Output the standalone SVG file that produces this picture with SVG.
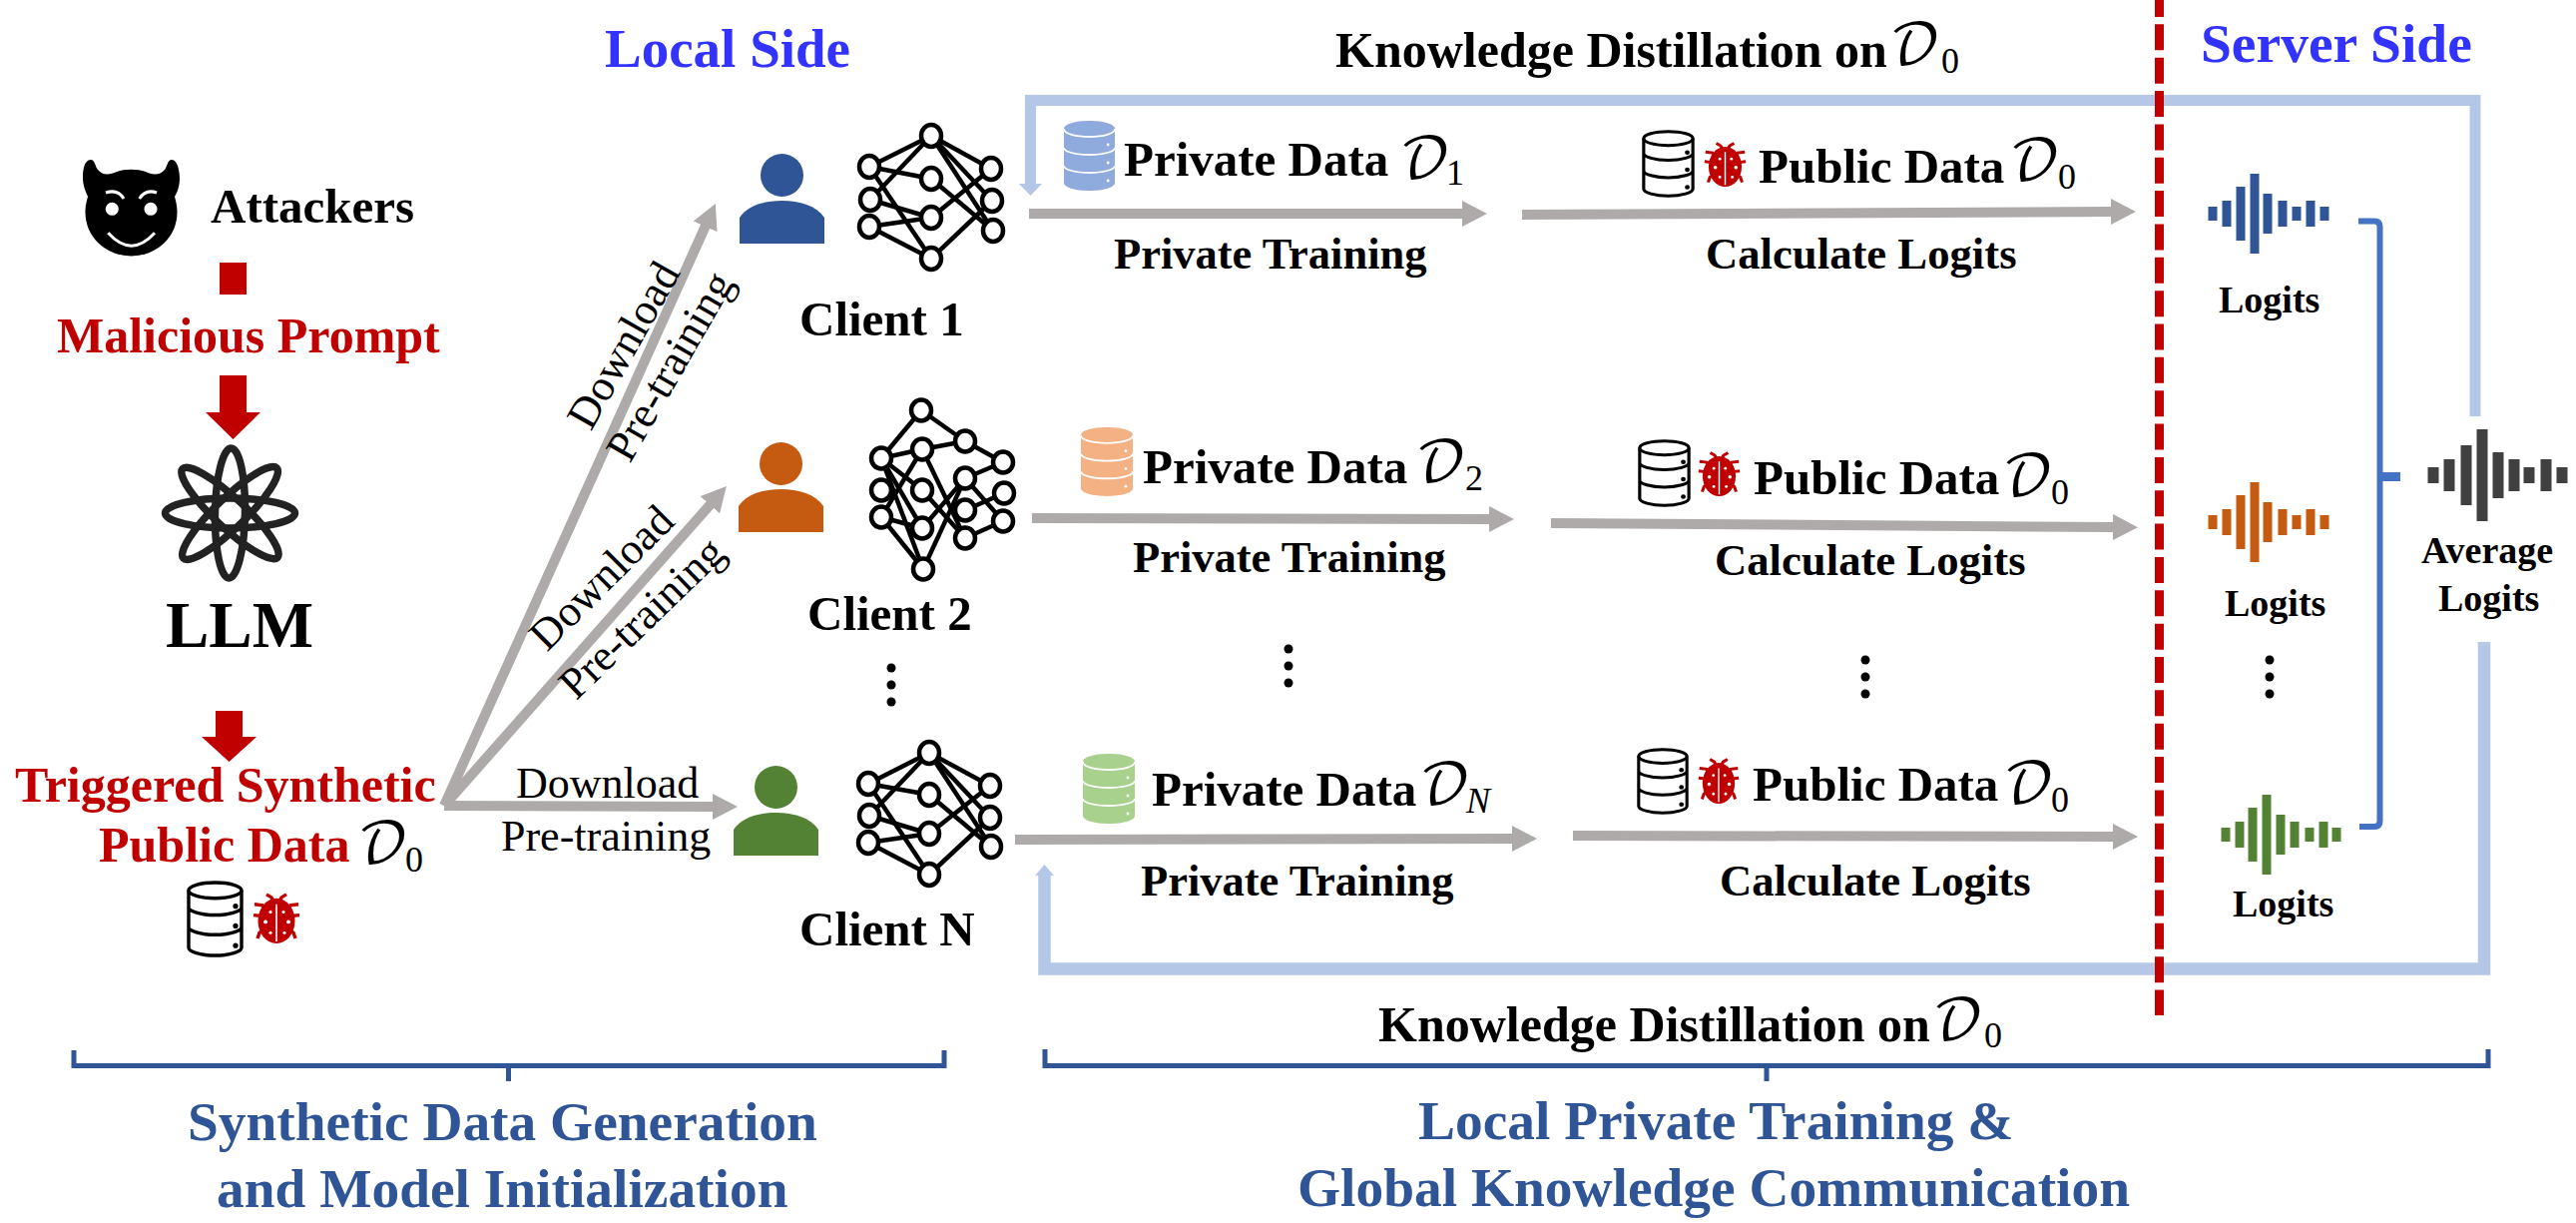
<svg xmlns="http://www.w3.org/2000/svg" width="2581" height="1225" viewBox="0 0 2581 1225">
<style>
text{font-family:"Liberation Serif","Times New Roman",serif;fill:#000}
.b{font-weight:bold}
.f50{font-size:50px}.f49{font-size:49px}.f48{font-size:49px}.f44{font-size:44px}.pt{font-size:44.500px}.cl{font-size:44.700px}.f38{font-size:38px}.f55{font-size:55.400px}
.red{fill:#C00000}.blue{fill:#3333FF}.navy{fill:#2F5597}
.cal{font-family:"DejaVu Math TeX Gyre","DejaVu Serif",serif;font-weight:normal;font-size:56px;fill:#000}
.sub{font-family:"Liberation Serif",serif;font-weight:normal;font-size:36px;fill:#000}
.subi{font-family:"Liberation Serif",serif;font-weight:normal;font-style:italic;font-size:36px;fill:#000}
.gray{fill:none;stroke:#AEAAAA;stroke-width:10;marker-end:url(#gh)}
.fb{fill:none;stroke:#B4C7E7;stroke-width:11}
.br{fill:none;stroke:#4472C4;stroke-width:6}
.brace{fill:none;stroke:#2F5597;stroke-width:5}
.nn line{stroke:#000;stroke-width:4.500}
.nn ellipse{fill:#fff;stroke:#000;stroke-width:4.500}
.wave{fill:none;stroke-width:9}
.dots circle{fill:#000}
</style>
<defs>
<marker id="gh" markerUnits="userSpaceOnUse" viewBox="0 0 25 26" markerWidth="25" markerHeight="26" refX="1" refY="13" orient="auto"><path d="M0 0L25 13L0 26Z" fill="#AEAAAA"/></marker>
<symbol id="person" viewBox="0 0 85 90"><ellipse cx="42.5" cy="21.5" rx="21.5" ry="21.5"/><path d="M0 90V64C8 52 25 47 42.5 47C60 47 77 52 85 64V90Z"/></symbol>
<symbol id="db" viewBox="0 0 57 78" preserveAspectRatio="none"><g fill="none" stroke="#000" stroke-width="3.4"><ellipse cx="28.5" cy="10" rx="26.5" ry="8"/><path d="M2 10V68C2 72 14 76 28.5 76C43 76 55 72 55 68V10M2 27C2 31 14 35 28.5 35C43 35 55 31 55 27M2 47C2 51 14 55 28.5 55C43 55 55 51 55 47"/></g><circle cx="49" cy="26" r="2.6"/><circle cx="49" cy="46" r="2.6"/><circle cx="49" cy="66" r="2.6"/></symbol>
<symbol id="cdb" viewBox="0 0 52 70" preserveAspectRatio="none"><path d="M0 8C0 3 12 0 26 0C40 0 52 3 52 8V62C52 67 40 70 26 70C12 70 0 67 0 62Z"/><g fill="none" stroke="#fff" stroke-width="1.8"><path d="M0 8C0 13 12 16 26 16C40 16 52 13 52 8M0 27C0 31 12 34 26 34C40 34 52 31 52 27M0 45C0 49 12 52 26 52C40 52 52 49 52 45"/></g><g fill="#fff"><circle cx="45" cy="24" r="1.4"/><circle cx="45" cy="42" r="1.4"/><circle cx="45" cy="60" r="1.4"/></g></symbol>
<symbol id="bug" viewBox="0 0 48 54" preserveAspectRatio="none"><g fill="#C00000"><ellipse cx="24" cy="31" rx="18.5" ry="23"/><g fill="none" stroke="#C00000" stroke-width="3.4"><path d="M14 4L19 7L22 12M34 4L29 7L26 12M2 14L10 15L14 22M46 14L38 15L34 22M1 25L9 26M47 25L39 26M5 49L7 43L12 40M43 49L41 43L36 40"/></g></g><path d="M24 14V52" stroke="#fff" stroke-width="1.6"/><g fill="#fff"><circle cx="18" cy="22" r="1.6"/><circle cx="31" cy="22" r="1.6"/><circle cx="13" cy="32" r="2"/><circle cx="36" cy="32" r="2"/><circle cx="18" cy="43" r="1.6"/><circle cx="32" cy="43" r="1.6"/></g></symbol>
</defs>

<g id="connectors">
<path class="gray" d="M445 807L707 226"/>
<path class="gray" d="M445 807L712 505"/>
<path class="gray" d="M445 807L715 808"/>
<path class="gray" d="M1031 214L1466 214"/>
<path class="gray" d="M1525 215L2116 212"/>
<path class="gray" d="M1034 519L1493 520"/>
<path class="gray" d="M1554 524L2118 528"/>
<path class="gray" d="M1017 841L1516 840"/>
<path class="gray" d="M1576 837L2118 838"/>
<path class="fb" d="M2480 417V100.500H1032.500V186"/>
<path d="M1021 184H1044L1032.500 196Z" fill="#B4C7E7"/>
<path class="fb" style="stroke-width:12.500" d="M2489 643V970.500H1046.500V876"/>
<path d="M1037 877H1056L1046.500 866Z" fill="#B4C7E7"/>
<path d="M2363 221.500H2379Q2384.500 221.500 2384.500 227V822Q2384.500 828 2379 828H2364" class="br"/>
<path d="M2384 477.500H2405" stroke="#4472C4" stroke-width="9" fill="none"/>
<path d="M2163.500 -9V1017" stroke="#C00000" stroke-width="9" stroke-dasharray="26 7.350" fill="none"/>
<path class="brace" d="M74 1052V1067.500H946V1052M509.500 1067.500V1083"/>
<path class="brace" d="M1047 1051V1067.500H2493V1051M1770 1067.500V1083"/>
</g>

<g id="attackers">
<path d="M91 160C84 160 83 172 83 178C83 186 86 192 88 197C86 204 85.500 208 85.500 213A46 43.500 0 0 0 177.500 213C177.500 208 177 204 175 197C178 192 180 186 180 178C180 172 178 160 172 160C168 160 168 166 165 170C160 176 152 175 146 172C137 169 125 169 117 172C110 175 103 176 98 170C95 166 95 160 91 160Z"/>
<circle cx="112.300" cy="209.300" r="6.500" fill="#fff"/><circle cx="151" cy="209.300" r="6.500" fill="#fff"/>
<path d="M106 193Q118 189 124 199M139.700 199Q146 189 157 193M108.300 233.300Q131.700 259 155 233.300" fill="none" stroke="#fff" stroke-width="3"/>
<text class="b f49" x="211" y="223">Attackers</text>
</g>
<g id="malicious-prompt">
<rect x="220" y="263" width="27" height="32" fill="#C00000"/>
<text class="b f50 red" x="57" y="353">Malicious Prompt</text>
<path d="M220 376H247V413H261L233.500 440L206 413H220Z" fill="#C00000"/>
</g>
<g id="llm">
<g fill="none" stroke="#222" stroke-width="7.500" transform="translate(230.500 514)">
<ellipse rx="65" ry="15"/><ellipse rx="65" ry="15" transform="rotate(43)"/><ellipse rx="65" ry="15" transform="rotate(91)"/><ellipse rx="65" ry="15" transform="rotate(136)"/>
</g>
<text class="b" x="166" y="648" font-size="65">LLM</text>
<path d="M216 712H243V738H257L229.500 763L202 738H216Z" fill="#C00000"/>
</g>
<g id="public-data">
<text class="b f50 red" x="15" y="803">Triggered Synthetic</text>
<text class="b f50 red" x="99" y="863">Public Data</text>
<text class="cal" x="358" y="864">𝒟</text><text class="sub" x="406" y="873">0</text>
<use href="#db" x="187" y="882" width="57" height="77"/>
<use href="#bug" x="253" y="892" width="48" height="53"/>
</g>
<g id="download-labels">
<text class="f44" text-anchor="middle" transform="translate(625 346) rotate(-60.500)" y="14">Download</text>
<text class="f44" text-anchor="middle" transform="translate(675 369) rotate(-60)" y="10">Pre-training</text>
<text class="f44" text-anchor="middle" transform="translate(603 579) rotate(-45)" y="14">Download</text>
<text class="f44" text-anchor="middle" transform="translate(646 622) rotate(-44)" y="10">Pre-training</text>
<text class="f44" x="517" y="799">Download</text>
<text class="f44" x="502" y="852">Pre-training</text>
</g>

<g id="client-1">
<use href="#person" x="741" y="154" width="85" height="90" fill="#2F5597"/>
<g class="nn">
<line x1="871" y1="167" x2="933" y2="136"/><line x1="871" y1="167" x2="933" y2="179"/><line x1="871" y1="167" x2="933" y2="259"/><line x1="872" y1="200" x2="933" y2="136"/><line x1="872" y1="200" x2="933" y2="218"/><line x1="871" y1="227" x2="933" y2="218"/><line x1="871" y1="227" x2="933" y2="259"/><line x1="933" y1="136" x2="993" y2="169"/><line x1="933" y1="136" x2="994" y2="201"/><line x1="933" y1="136" x2="995" y2="231"/><line x1="933" y1="179" x2="995" y2="231"/><line x1="933" y1="218" x2="993" y2="169"/><line x1="933" y1="259" x2="994" y2="201"/>
<ellipse cx="871" cy="167" rx="10" ry="11"/><ellipse cx="872" cy="200" rx="10" ry="11"/><ellipse cx="871" cy="227" rx="10" ry="11"/><ellipse cx="933" cy="136" rx="10" ry="11"/><ellipse cx="933" cy="179" rx="10" ry="11"/><ellipse cx="933" cy="218" rx="10" ry="11"/><ellipse cx="933" cy="259" rx="10" ry="11"/><ellipse cx="993" cy="169" rx="10" ry="11"/><ellipse cx="994" cy="201" rx="10" ry="11"/><ellipse cx="995" cy="231" rx="10" ry="11"/>
</g>
<text class="b f48" x="801" y="336">Client 1</text>
</g>
<g id="client-2">
<use href="#person" x="740" y="443" width="85" height="90" fill="#C55A11"/>
<g class="nn">
<line x1="883" y1="459" x2="923" y2="411"/><line x1="883" y1="459" x2="924" y2="450"/><line x1="883" y1="459" x2="924" y2="491"/><line x1="883" y1="459" x2="924" y2="529"/><line x1="883" y1="459" x2="925" y2="570"/><line x1="883" y1="518" x2="924" y2="529"/><line x1="883" y1="518" x2="925" y2="570"/><line x1="923" y1="411" x2="967" y2="442"/><line x1="924" y1="450" x2="967" y2="442"/><line x1="924" y1="450" x2="883" y2="518"/><line x1="924" y1="450" x2="967" y2="539"/><line x1="924" y1="491" x2="967" y2="539"/><line x1="924" y1="529" x2="967" y2="479"/><line x1="925" y1="570" x2="967" y2="479"/><line x1="967" y1="442" x2="1005" y2="463"/><line x1="967" y1="479" x2="1005" y2="463"/><line x1="967" y1="479" x2="1005" y2="522"/><line x1="967" y1="511" x2="1006" y2="494"/><line x1="967" y1="539" x2="1005" y2="522"/>
<ellipse cx="883" cy="459" rx="10" ry="10.500"/><ellipse cx="883" cy="491" rx="10" ry="10.500"/><ellipse cx="883" cy="518" rx="10" ry="10.500"/><ellipse cx="923" cy="411" rx="10" ry="10.500"/><ellipse cx="924" cy="450" rx="10" ry="10.500"/><ellipse cx="924" cy="491" rx="10" ry="10.500"/><ellipse cx="924" cy="529" rx="10" ry="10.500"/><ellipse cx="925" cy="570" rx="10" ry="10.500"/><ellipse cx="967" cy="442" rx="10" ry="10.500"/><ellipse cx="967" cy="479" rx="10" ry="10.500"/><ellipse cx="967" cy="511" rx="10" ry="10.500"/><ellipse cx="967" cy="539" rx="10" ry="10.500"/><ellipse cx="1005" cy="463" rx="10" ry="10.500"/><ellipse cx="1006" cy="494" rx="10" ry="10.500"/><ellipse cx="1005" cy="522" rx="10" ry="10.500"/>
</g>
<text class="b f48" x="809" y="631">Client 2</text>
</g>
<g id="client-dots" class="dots"><circle cx="893" cy="669" r="4.500"/><circle cx="893" cy="686" r="4.500"/><circle cx="893" cy="703" r="4.500"/></g>
<g id="client-n">
<use href="#person" x="735" y="767" width="85" height="90" fill="#548235"/>
<g class="nn">
<line x1="870" y1="785" x2="931" y2="754"/><line x1="870" y1="785" x2="931" y2="796"/><line x1="870" y1="785" x2="931" y2="876"/><line x1="871" y1="817" x2="931" y2="754"/><line x1="871" y1="817" x2="931" y2="835"/><line x1="870" y1="844" x2="931" y2="835"/><line x1="870" y1="844" x2="931" y2="876"/><line x1="931" y1="754" x2="992" y2="787"/><line x1="931" y1="754" x2="992" y2="819"/><line x1="931" y1="754" x2="993" y2="848"/><line x1="931" y1="796" x2="993" y2="848"/><line x1="931" y1="835" x2="992" y2="787"/><line x1="931" y1="876" x2="992" y2="819"/>
<ellipse cx="870" cy="785" rx="10" ry="11"/><ellipse cx="871" cy="817" rx="10" ry="11"/><ellipse cx="870" cy="844" rx="10" ry="11"/><ellipse cx="931" cy="754" rx="10" ry="11"/><ellipse cx="931" cy="796" rx="10" ry="11"/><ellipse cx="931" cy="835" rx="10" ry="11"/><ellipse cx="931" cy="876" rx="10" ry="11"/><ellipse cx="992" cy="787" rx="10" ry="11"/><ellipse cx="992" cy="819" rx="10" ry="11"/><ellipse cx="993" cy="848" rx="10" ry="11"/>
</g>
<text class="b f48" x="801" y="947">Client N</text>
</g>

<g id="private-1">
<use href="#cdb" x="1066" y="121" width="51" height="70" fill="#8FAADC"/>
<text class="b f49" x="1126" y="176">Private Data</text>
<text class="cal" x="1402" y="178">𝒟</text><text class="sub" x="1449" y="185">1</text>
<text class="b pt" x="1116" y="269">Private Training</text>
</g>
<g id="public-1">
<use href="#db" x="1645" y="130" width="53" height="68"/>
<use href="#bug" x="1707" y="140" width="43" height="47"/>
<text class="b f49" x="1762" y="183">Public Data</text>
<text class="cal" x="2013" y="180">𝒟</text><text class="sub" x="2062" y="189">0</text>
<text class="b cl" x="1709" y="269">Calculate Logits</text>
</g>
<g id="private-2">
<use href="#cdb" x="1083" y="428" width="52" height="69" fill="#F4B183"/>
<text class="b f49" x="1145" y="484">Private Data</text>
<text class="cal" x="1418" y="482">𝒟</text><text class="sub" x="1468" y="491">2</text>
<text class="b pt" x="1135" y="573">Private Training</text>
</g>
<g id="public-2">
<use href="#db" x="1641" y="440" width="53" height="68"/>
<use href="#bug" x="1701" y="450" width="43" height="47"/>
<text class="b f49" x="1757" y="495">Public Data</text>
<text class="cal" x="2006" y="496">𝒟</text><text class="sub" x="2055" y="505">0</text>
<text class="b cl" x="1718" y="576">Calculate Logits</text>
</g>
<g id="mid-dots" class="dots"><circle cx="1291" cy="650" r="4.500"/><circle cx="1291" cy="667" r="4.500"/><circle cx="1291" cy="684" r="4.500"/><circle cx="1869" cy="661" r="4.500"/><circle cx="1869" cy="678" r="4.500"/><circle cx="1869" cy="695" r="4.500"/><circle cx="2274" cy="661" r="4.500"/><circle cx="2274" cy="678" r="4.500"/><circle cx="2274" cy="695" r="4.500"/></g>
<g id="private-n">
<use href="#cdb" x="1085" y="755" width="52" height="70" fill="#A9D18E"/>
<text class="b f49" x="1154" y="807">Private Data</text>
<text class="cal" x="1422" y="805">𝒟</text><text class="subi" x="1469" y="814">N</text>
<text class="b pt" x="1143" y="897">Private Training</text>
</g>
<g id="public-n">
<use href="#db" x="1640" y="749" width="52" height="67"/>
<use href="#bug" x="1701" y="757" width="42" height="48"/>
<text class="b f49" x="1756" y="802">Public Data</text>
<text class="cal" x="2007" y="804">𝒟</text><text class="sub" x="2055" y="813">0</text>
<text class="b cl" x="1723" y="897">Calculate Logits</text>
</g>

<g id="headers">
<text class="b blue" font-size="55" x="606" y="67">Local Side</text>
<text class="b blue" font-size="55.500" x="2205" y="62">Server Side</text>
<text class="b f50" x="1338" y="67">Knowledge Distillation on</text>
<text class="cal" x="1893" y="64">𝒟</text><text class="sub" x="1945" y="73">0</text>
<text class="b f50" x="1381" y="1043">Knowledge Distillation on</text>
<text class="cal" x="1936" y="1041">𝒟</text><text class="sub" x="1988" y="1049">0</text>
</g>

<g id="logits-1">
<path class="wave" stroke="#2F5597" d="M2217 207V221M2231 201V227M2245 187V241M2259 174V254M2272 194V234M2287 201V227M2301 207V221M2315 201V227M2329 207V221"/>
<text class="b f38" x="2223" y="313">Logits</text>
</g>
<g id="logits-2">
<path class="wave" stroke="#C55A11" d="M2217 516V530M2231 510V536M2245 496V550M2259 483V563M2272 503V543M2287 510V536M2301 516V530M2315 510V536M2329 516V530"/>
<text class="b f38" x="2229" y="617">Logits</text>
</g>
<g id="logits-n">
<path class="wave" stroke="#548235" d="M2230 829V843M2244 823V849M2257 809V863M2271 796V876M2285 816V856M2299 823V849M2314 829V843M2328 823V849M2341 829V843"/>
<text class="b f38" x="2237" y="918">Logits</text>
</g>
<g id="average-logits">
<path class="wave" style="stroke-width:11" stroke="#404040" d="M2438 468V484M2454 460V492M2471 446V506M2487 430V522M2503 453V499M2519 460V492M2534 468V484M2551 460V492M2567 468V484"/>
<text class="b f38" x="2426" y="564">Average</text>
<text class="b f38" x="2443" y="612">Logits</text>
</g>

<g id="captions">
<text class="b f55 navy" x="188" y="1142">Synthetic Data Generation</text>
<text class="b f55 navy" x="217" y="1209">and Model Initialization</text>
<text class="b f55 navy" x="1421" y="1141">Local Private Training &amp;</text>
<text class="b f55 navy" x="1300" y="1208">Global Knowledge Communication</text>
</g>
</svg>
